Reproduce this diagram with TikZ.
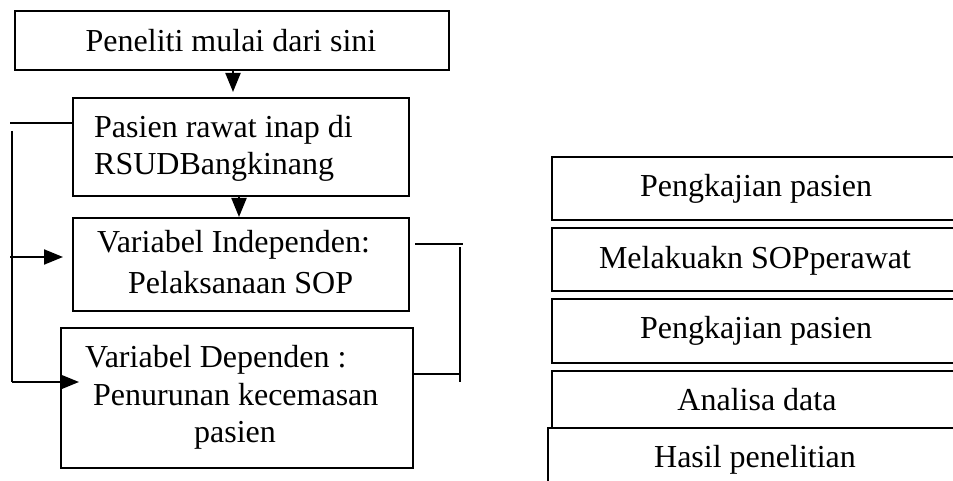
\documentclass[tikz,border=0pt]{standalone}
\usepackage{fontspec}
\setmainfont{Liberation Serif}
\usetikzlibrary{arrows.meta}
\begin{document}
\begin{tikzpicture}[x=1pt,y=-1pt,
  box/.style={draw,line width=2pt,inner sep=0pt,anchor=north west},
  txt/.style={anchor=base west,inner sep=0pt,font=\fontsize{32}{36}\selectfont},
  ctxt/.style={anchor=base,inner sep=0pt,font=\fontsize{32}{36}\selectfont},
  conn/.style={line width=1.2pt},
  arr/.style={line width=2pt,-{Triangle[length=19pt,width=15pt]}}]
\useasboundingbox (0,0) rectangle (953,481);
\clip (0,0) rectangle (953,481);
% left column boxes
\node[box,minimum width=434pt,minimum height=59pt] (b1) at (14,10) {};
\node[box,minimum width=336pt,minimum height=98pt] (b2) at (72,97) {};
\node[box,minimum width=336pt,minimum height=93pt] (b3) at (72,217) {};
\node[box,minimum width=352pt,minimum height=140pt] (b4) at (60,327) {};
% left column texts
\node[ctxt] (t1) at (231,52) {Peneliti mulai dari sini};
\node[txt] (t2a) at (94,138) {Pasien rawat inap di};
\node[txt] (t2b) at (94,175) {RSUDBangkinang};
\node[txt] (t3a) at (97,252) {Variabel Independen:};
\node[txt] (t3b) at (128,293) {Pelaksanaan SOP};
\node[txt] (t4a) at (85,367) {Variabel Dependen :};
\node[txt] (t4b) at (93,405) {Penurunan kecemasan};
\node[ctxt] (t4c) at (235,442) {pasien};
% vertical arrows
\draw[arr] ([xshift=1pt]b1.south) -- ([xshift=1pt,yshift=5pt]b1.south |- b2.north);
\draw[arr] ([xshift=-2pt]b2.south) -- ([xshift=-2pt]b2.south |- b3.north);
% left feedback lines
\coordinate (L1) at (10,123);
\coordinate (L2) at (12,131);
\coordinate (L3) at (12,382);
\coordinate (A3) at (10,257);
\coordinate (A4) at (12,382);
\draw[conn] (b2.west |- L1) -- (L1);
\draw[conn] (L2) -- (L3);
\draw[arr] (A3) -- ([xshift=-9pt]A3 -| b3.west);
\draw[arr] (A4) -- ([xshift=19pt]A4 -| b4.west);
% right bracket lines
\coordinate (R1) at (463,244);
\coordinate (R2) at (460,247);
\coordinate (R3) at (460,382);
\coordinate (R4) at (460,374);
\draw[conn] ([xshift=5pt]b3.east |- R1) -- (R1);
\draw[conn] (R2) -- (R3);
\draw[conn] (b4.east |- R4) -- (R4);
% right column boxes
\node[box,minimum width=410pt,minimum height=63pt] (rA) at (551,156) {};
\node[box,minimum width=410pt,minimum height=63pt] (rB) at (551,227) {};
\node[box,minimum width=410pt,minimum height=64pt] (rC) at (551,298) {};
\node[box,minimum width=410pt,minimum height=57pt] (rD) at (551,370) {};
\node[box,minimum width=414pt,minimum height=70pt] (rE) at (547,427) {};
\node[ctxt] (tA) at (756,197) {Pengkajian pasien};
\node[ctxt] (tB) at (755,268) {Melakuakn SOPperawat};
\node[ctxt] (tC) at (756,338) {Pengkajian pasien};
\node[ctxt] (tD) at (757,410) {Analisa data};
\node[ctxt] (tE) at (755,467) {Hasil penelitian};
\end{tikzpicture}
\end{document}
